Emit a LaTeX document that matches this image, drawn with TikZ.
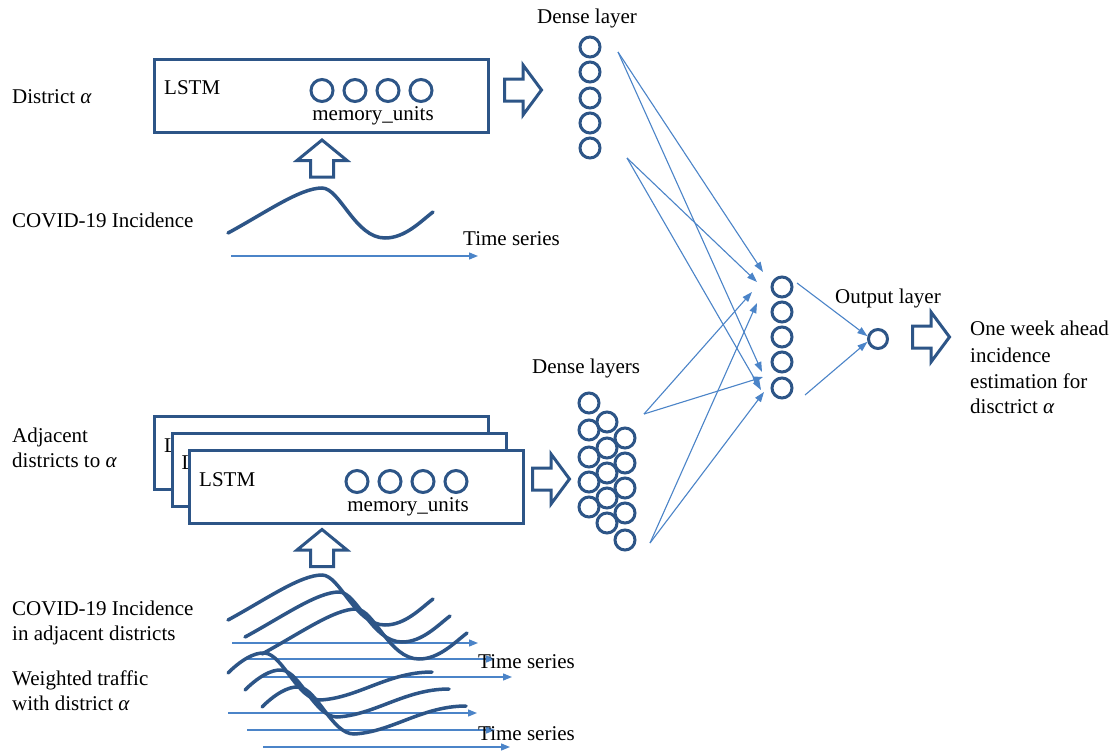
\documentclass[tikz,border=0pt]{standalone}
\usepackage{fontspec}
\setmainfont{Liberation Serif}
\usetikzlibrary{arrows.meta}

\definecolor{netblue}{RGB}{45,85,135}
\definecolor{linkblue}{RGB}{75,132,200}

\tikzset{
  unit/.style={circle, draw=netblue, line width=3pt, minimum size=20pt, inner sep=0pt},
  memunit/.style={circle, draw=netblue, line width=3pt, minimum size=22pt, inner sep=0pt},
  lstmframe/.style={draw=netblue, line width=3pt, fill=white, minimum width=334pt,
    minimum height=73pt, inner sep=0pt, anchor=north west},
  txt/.style={anchor=base west, inner sep=0pt, font=\fontsize{21}{26}\selectfont},
  link/.style={draw=linkblue, line width=1.1pt, -{Triangle[length=10pt,width=7pt]}},
  axis/.style={draw=linkblue, line width=1.3pt, -{Triangle[length=9pt,width=7pt]}},
  hollow/.style={draw=netblue, line width=3pt, fill=white, line join=miter},
  wave/.style={draw=netblue, line width=3.5pt, line cap=round},
  pics/rightblock/.style={code={
    \draw[hollow] (-18.5,-11)--(0,-11)--(0,-25)--(18.5,0)--(0,25)--(0,11)--(-18.5,11)--cycle;}},
  pics/upblock/.style={code={
    \draw[hollow] (-11.5,18.5)--(-11.5,2)--(-25,2)--(0,-18.5)--(25,2)--(11.5,2)--(11.5,18.5)--cycle;}},
  % stacked LSTM card seen from behind: only its frame and title show
  pics/lstmcard/.style={code={
    \node[lstmframe] (-box) at (0,0) {};
    \node[txt] (-name) at (11,37) {LSTM};}},
  pics/lstm/.style={code={
    \node[lstmframe] (-box) at (0,0) {};
    \node[txt] (-name) at (11,37) {LSTM};
    \foreach \i in {1,...,4} \node[memunit] (-m\i) at (136+33*\i,32.5) {};
    \node[txt, anchor=base] (-mem) at (220,62.5) {memory\_units};}},
  % incidence curve: slow rise, peak, drop, recovery
  pics/incwave/.style={code={
    \draw[wave] (0,0) .. controls (37,-20) and (72,-45) .. (94,-45)
      .. controls (112,-45) and (127,5) .. (157,5)
      .. controls (177,5) and (192,-11) .. (205,-21);}},
  % traffic curve: early peak, drop, slow flattening rise
  pics/trafwave/.style={code={
    \draw[wave] (0,0) .. controls (12,-12) and (26,-21) .. (37,-20)
      .. controls (55,-18) and (70,27) .. (92,27)
      .. controls (130,25) and (160,-1) .. (204,-1);}},
}

\begin{document}
\begin{tikzpicture}[x=1pt, y=-1pt]
\useasboundingbox[fill=white] (0,0) rectangle (1116,752);

% ---------------- upper branch: district alpha ----------------
\node[txt] (distA) at (12,103) {District \textit{α}};
\pic (top) at (153,58) {lstm};
\pic (topIn) at (322,158.5) {upblock};
\node[txt] (incA) at (12,227) {COVID-19 Incidence};
\pic (waveA) at (228,233) {incwave};
\coordinate (tA0) at (231,256);
\coordinate (tA1) at (478,256);
\draw[axis] (tA0) -- (tA1);
\node[txt] (tsA) at (463,245) {Time series};
\pic (topOut) at (523,90) {rightblock};

% dense layer of the upper branch
\node[txt] (denseT) at (537,24) {Dense layer};
\foreach \j/\y in {1/47,2/72,3/98,4/123,5/148}
  \node[unit] (d\j) at (590,\y) {};

% ---------------- lower branch: adjacent districts ----------------
\node[txt] (adj1) at (12,442) {Adjacent};
\node[txt] (adj2) at (12,467) {districts to \textit{α}};
\pic (back) at (153,415) {lstmcard};
\pic (mid) at (170.5,432) {lstmcard};
\pic (front) at (188,449) {lstm};
\pic (lowIn) at (322,548) {upblock};
\pic (lowOut) at (551,479) {rightblock};

\node[txt] (incB1) at (12,615) {COVID-19 Incidence};
\node[txt] (incB2) at (12,640) {in adjacent districts};
\node[txt] (trf1) at (12,685) {Weighted traffic};
\node[txt] (trf2) at (12,710) {with district \textit{α}};

% time axes
\foreach \k/\xa/\xb/\y in {1/232/478/643, 2/247/495/659, 3/263/512/677,
                           4/228/477/713, 5/247/495/730, 6/263/510/747}{
  \coordinate (ax\k s) at (\xa,\y);
  \coordinate (ax\k e) at (\xb,\y);
  \draw[axis] (ax\k s) -- (ax\k e);
}

% incidence curves of adjacent districts
\pic (wB1) at (228,620) {incwave};
\pic (wB2) at (245,637) {incwave};
\pic (wB3) at (262,654) {incwave};
% traffic curves
\pic (wC1) at (228,673) {trafwave};
\pic (wC2) at (245,690) {trafwave};
\pic (wC3) at (262,707) {trafwave};

\node[txt] (tsB) at (478,668) {Time series};
\node[txt] (tsC) at (478,740) {Time series};

% dense layers of the lower branch
\node[txt] (denseL) at (532,373) {Dense layers};
\foreach \j/\y in {1/403,2/430,3/457,4/482,5/507}
  \node[unit] (la\j) at (589,\y) {};
\foreach \j/\y in {1/422,2/448,3/473,4/498,5/523}
  \node[unit] (lb\j) at (607,\y) {};
\foreach \j/\y in {1/438,2/463,3/488,4/513,5/540}
  \node[unit] (lc\j) at (625,\y) {};

% ---------------- merged layer and output ----------------
\foreach \j/\y in {1/287,2/312,3/337,4/362,5/388}
  \node[unit] (h\j) at (782,\y) {};
\node[unit, minimum size=19pt] (out) at (878,339) {};
\node[txt] (outL) at (835,303) {Output layer};
\pic (resArrow) at (931,337) {rightblock};
\node[txt] (res1) at (970,335) {One week ahead};
\node[txt] (res2) at (970,362) {incidence};
\node[txt] (res3) at (970,388) {estimation for};
\node[txt] (res4) at (970,413) {disctrict \textit{α}};

% connection fans
\coordinate (srcA) at (618,52);
\coordinate (srcB) at (627,158);
\coordinate (srcC) at (644,414);
\coordinate (srcD) at (650,543);
\coordinate (inA1) at (763,272);
\coordinate (inB1) at (757,282);
\coordinate (inC1) at (752,292);
\coordinate (inD1) at (757,303);
\coordinate (inA2) at (762,372);
\coordinate (inC2) at (763,377);
\coordinate (inB2) at (761,390);
\coordinate (inD2) at (764,392);
\draw[link] (srcA) -- (inA1);
\draw[link] (srcA) -- (inA2);
\draw[link] (srcB) -- (inB1);
\draw[link] (srcB) -- (inB2);
\draw[link] (srcC) -- (inC1);
\draw[link] (srcC) -- (inC2);
\draw[link] (srcD) -- (inD1);
\draw[link] (srcD) -- (inD2);

\coordinate (hTop) at (797,283);
\coordinate (hBot) at (805,395);
\draw[link] (hTop) -- (out.165);
\draw[link] (hBot) -- (out.195);
\end{tikzpicture}
\end{document}
